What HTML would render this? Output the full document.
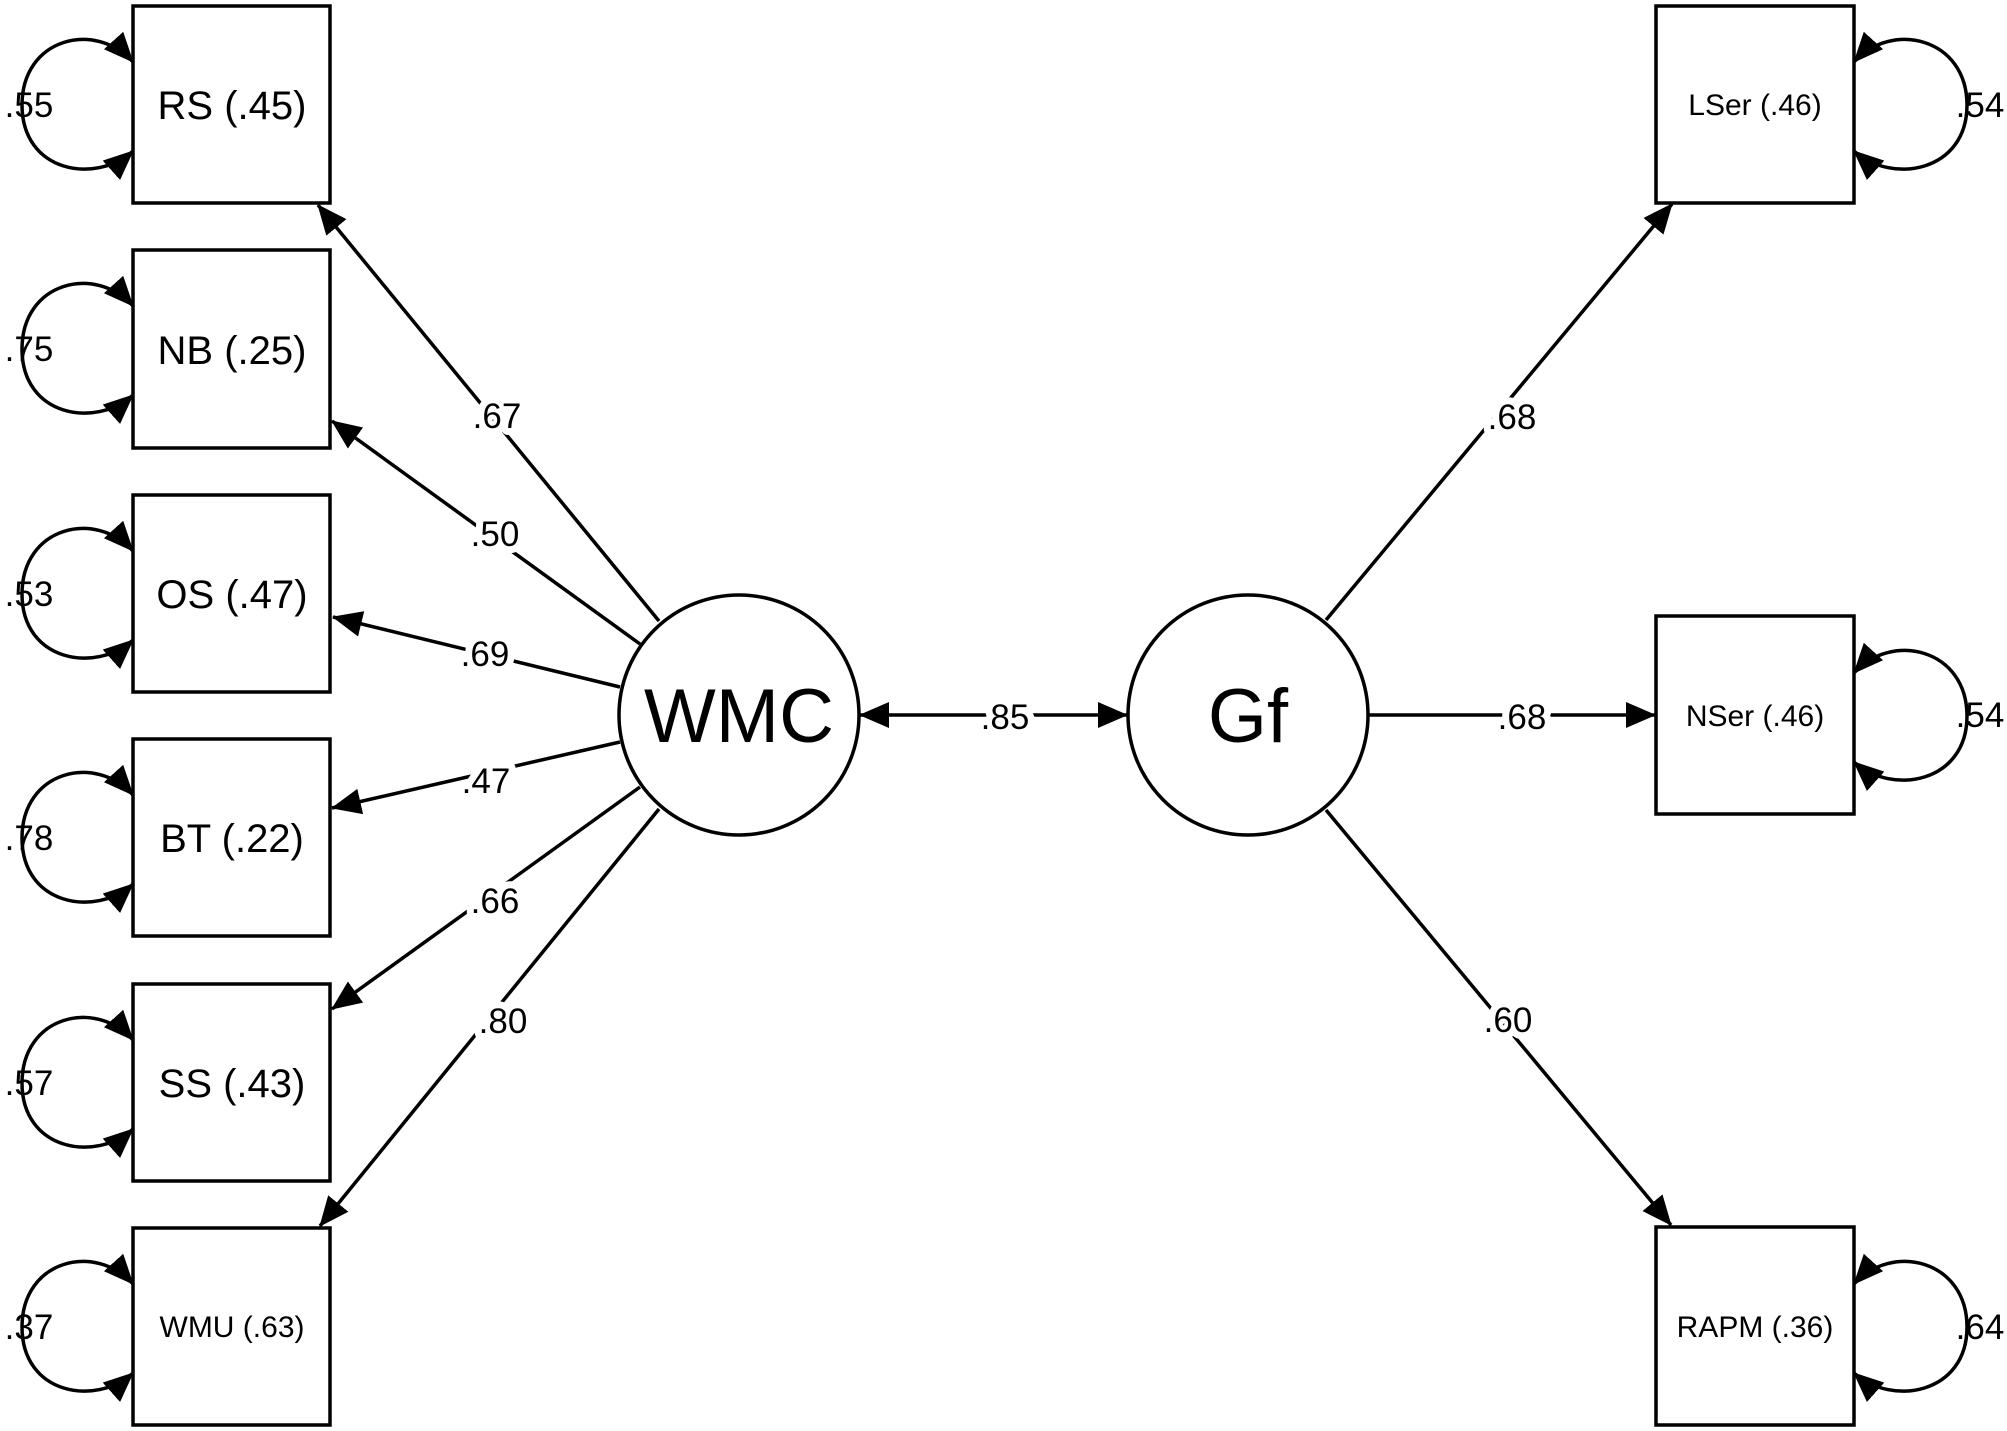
<!DOCTYPE html>
<html><head><meta charset="utf-8"><style>
html,body{margin:0;padding:0;background:#fff;}
svg{display:block;}
text{font-family:"Liberation Sans",Arial,sans-serif;fill:#000;}
.lbl{paint-order:stroke;stroke:#fff;stroke-width:14px;stroke-linejoin:round;}
</style></head><body>
<svg width="2007" height="1431" viewBox="0 0 2007 1431" xmlns="http://www.w3.org/2000/svg">
<defs>
<marker id="a" markerUnits="userSpaceOnUse" markerWidth="32" markerHeight="26" refX="29" refY="13" orient="auto-start-reverse">
<path d="M0,0 L30,13 L0,26 z" fill="#000"/>
</marker>
</defs>
<g stroke="#000" stroke-width="3.5" fill="none">
<rect x="133" y="6" width="197" height="197"/>
<rect x="133" y="250" width="197" height="198"/>
<rect x="133" y="495" width="197" height="197"/>
<rect x="133" y="739" width="197" height="197"/>
<rect x="133" y="984" width="197" height="197"/>
<rect x="133" y="1228" width="197" height="197"/>
<rect x="1656" y="6" width="198" height="197"/>
<rect x="1656" y="616" width="198" height="198"/>
<rect x="1656" y="1227" width="198" height="198"/>
<circle cx="739" cy="715" r="120"/>
<circle cx="1248" cy="715" r="120"/>
<line x1="659" y1="621" x2="318" y2="205" marker-end="url(#a)"/>
<line x1="640" y1="644" x2="332" y2="421" marker-end="url(#a)"/>
<line x1="620" y1="687" x2="333" y2="617" marker-end="url(#a)"/>
<line x1="620" y1="742" x2="332" y2="808" marker-end="url(#a)"/>
<line x1="640" y1="787" x2="332" y2="1009" marker-end="url(#a)"/>
<line x1="659" y1="809" x2="320" y2="1226" marker-end="url(#a)"/>
<line x1="1326" y1="620" x2="1672" y2="204" marker-end="url(#a)"/>
<line x1="1368" y1="715" x2="1655" y2="715" marker-end="url(#a)"/>
<line x1="1326" y1="810" x2="1671" y2="1225" marker-end="url(#a)"/>
<line x1="860" y1="715" x2="1127" y2="715" marker-start="url(#a)" marker-end="url(#a)"/>
<path d="M133,151 C95,185 22,172 22,105 C22,38 95,20 133,62" marker-start="url(#a)" marker-end="url(#a)"/>
<path d="M133,395 C95,429 22,416 22,349 C22,282 95,264 133,306" marker-start="url(#a)" marker-end="url(#a)"/>
<path d="M133,640 C95,674 22,661 22,594 C22,527 95,509 133,551" marker-start="url(#a)" marker-end="url(#a)"/>
<path d="M133,884 C95,918 22,905 22,838 C22,771 95,753 133,795" marker-start="url(#a)" marker-end="url(#a)"/>
<path d="M133,1129 C95,1163 22,1150 22,1083 C22,1016 95,998 133,1040" marker-start="url(#a)" marker-end="url(#a)"/>
<path d="M133,1373 C95,1407 22,1394 22,1327 C22,1260 95,1242 133,1284" marker-start="url(#a)" marker-end="url(#a)"/>
<path d="M1854,151 C1892,185 1967,172 1967,105 C1967,38 1892,20 1854,62" marker-start="url(#a)" marker-end="url(#a)"/>
<path d="M1854,762 C1892,796 1967,783 1967,716 C1967,649 1892,631 1854,673" marker-start="url(#a)" marker-end="url(#a)"/>
<path d="M1854,1373 C1892,1407 1967,1394 1967,1327 C1967,1260 1892,1242 1854,1284" marker-start="url(#a)" marker-end="url(#a)"/>
</g>
<g font-size="40" text-anchor="middle">
<text x="232" y="119">RS (.45)</text>
<text x="232" y="364">NB (.25)</text>
<text x="232" y="608">OS (.47)</text>
<text x="232" y="852">BT (.22)</text>
<text x="232" y="1097">SS (.43)</text>
</g>
<g font-size="30" text-anchor="middle">
<text x="232" y="1337">WMU (.63)</text>
<text x="1755" y="115">LSer (.46)</text>
<text x="1755" y="726">NSer (.46)</text>
<text x="1755" y="1337">RAPM (.36)</text>
</g>
<g font-size="76" text-anchor="middle">
<text x="739" y="742">WMC</text>
<text x="1248" y="742">Gf</text>
</g>
<g font-size="35" text-anchor="middle" class="lbl">
<text x="497" y="428">.67</text>
<text x="495" y="546">.50</text>
<text x="485" y="666">.69</text>
<text x="486" y="793">.47</text>
<text x="495" y="913">.66</text>
<text x="503" y="1033">.80</text>
<text x="1512" y="429">.68</text>
<text x="1522" y="729">.68</text>
<text x="1508" y="1032">.60</text>
<text x="1005" y="729">.85</text>
</g>
<g font-size="35" text-anchor="middle">
<text x="29" y="117">.55</text>
<text x="29" y="361">.75</text>
<text x="29" y="606">.53</text>
<text x="29" y="850">.78</text>
<text x="29" y="1095">.57</text>
<text x="29" y="1339">.37</text>
<text x="1980" y="117">.54</text>
<text x="1980" y="727">.54</text>
<text x="1980" y="1339">.64</text>
</g>
</svg>
</body></html>
